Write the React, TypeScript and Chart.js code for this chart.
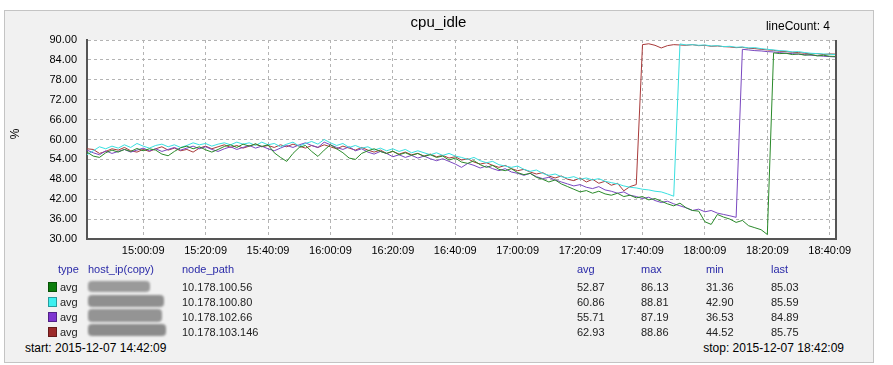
import React, { useEffect, useRef } from "react";
import { Chart, registerables } from "chart.js";

Chart.register(...registerables);

const FONT = '"Liberation Sans", Arial, sans-serif';

const START_TIME = "14:42:09";
const STOP_TIME = "18:42:09";
const DATE = "2015-12-07";
const STEP_MINUTES = 2;
const TOTAL_MINUTES = 240;
const X_TICK_MINUTES = [18, 38, 58, 78, 98, 118, 138, 158, 178, 198, 218, 238];
const Y_TICKS = [30, 36, 42, 48, 54, 60, 66, 72, 78, 84, 90];

const NODE_PATHS = ["10.178.100.56", "10.178.100.80", "10.178.102.66", "10.178.103.146"];
const LINE_COLORS = ["#2a8a2a", "#3ae0e0", "#7a48c0", "#a83a3a"];
const SWATCH_COLORS = ["#0b7d0b", "#3cf0f0", "#7d35d0", "#9b2a2a"];
const STAT_AVG = ["52.87", "60.86", "55.71", "62.93"];
const STAT_MAX = ["86.13", "88.81", "87.19", "88.86"];
const STAT_MIN = ["31.36", "42.90", "36.53", "44.52"];
const STAT_LAST = ["85.03", "85.59", "84.89", "85.75"];

const GREEN = [
  56.2, 55.0, 54.6, 56.0, 56.8, 56.2, 57.0, 56.4, 57.3, 56.6,
  57.2, 56.8, 55.6, 55.1, 56.4, 57.5, 58.0, 57.2, 57.8, 56.9,
  56.2, 57.0, 57.9, 58.4, 57.6, 58.6, 58.0, 58.7, 57.9, 58.4,
  56.0, 54.6, 53.4, 55.8, 57.6, 58.2, 56.4, 54.9, 56.8, 58.4,
  57.2, 56.0, 54.4, 54.0, 55.8, 56.6, 57.2, 56.4, 55.8, 56.5,
  55.4, 56.0, 55.2, 55.8, 54.9, 55.4, 54.6, 55.0, 53.8, 54.4,
  53.2, 52.8, 53.6, 52.4, 51.6, 52.2, 51.0, 50.6, 51.2, 50.0,
  49.4, 49.8, 48.6, 48.0, 47.2, 47.8, 46.6, 45.8, 45.0, 44.2,
  44.6, 43.8, 44.4, 43.6, 43.2, 43.8, 42.8, 43.2, 42.4, 42.8,
  41.8, 42.2, 41.4, 40.6, 40.0, 40.8, 39.4, 38.6, 38.4, 35.2,
  34.4, 37.4, 36.6, 36.0, 35.0, 35.6, 34.0, 33.4, 32.8, 31.36,
  86.13, 85.9, 86.0, 85.6, 85.8, 85.4, 85.6, 85.2, 85.4, 85.1,
  85.03,
];

const CYAN = [
  55.4, 56.6, 57.8, 57.2, 58.0, 57.4, 58.4, 57.6, 58.8, 58.0,
  57.4, 58.2, 58.6, 57.8, 58.4, 57.6, 58.2, 59.0, 58.4, 58.8,
  58.0, 58.6, 59.0, 58.4, 59.2, 58.6, 59.0, 58.2, 59.2, 58.4,
  58.8, 57.8, 58.6, 59.2, 58.0, 58.8, 59.4, 58.6, 60.0, 59.0,
  58.2, 58.8, 57.6, 58.2, 57.4, 57.8, 56.8, 57.4, 56.6, 57.2,
  56.4, 57.0, 56.0, 56.6, 56.0, 55.4, 56.0, 55.2, 55.8, 55.0,
  54.6, 54.0, 54.6, 53.6, 53.0, 53.4, 52.4, 52.0, 51.6, 52.0,
  51.0, 50.4, 50.8, 49.8, 49.2, 49.6, 48.8, 48.4, 48.8, 48.0,
  48.4, 47.8, 48.2, 47.4, 47.0, 46.6, 46.0, 45.6, 45.4, 45.0,
  44.8, 44.4, 44.2, 43.6, 42.9, 88.81, 88.5, 88.6, 88.4, 88.5,
  88.2, 88.3, 88.0, 88.1, 87.8, 87.9, 87.6, 87.7, 87.4, 87.2,
  87.0, 86.8, 86.7, 86.4, 86.5, 86.2, 86.0, 85.9, 85.8, 85.7,
  85.59,
];

const PURPLE = [
  56.8, 56.0, 55.4, 56.6, 55.8, 56.4, 57.0, 56.2, 56.8, 57.4,
  56.6, 57.2, 56.4, 57.0, 57.6, 56.8, 57.4, 58.0, 57.2, 57.8,
  57.0, 56.4, 57.2, 57.8, 57.0, 57.6, 58.2, 57.4, 58.0, 57.2,
  56.6, 57.4, 58.2, 57.6, 58.4, 59.0, 58.2, 57.6, 59.2, 58.4,
  57.6, 57.0, 57.8, 56.6, 57.2, 56.2, 55.6, 56.4, 55.8, 54.8,
  55.4, 54.6, 55.2, 54.4, 55.0, 54.2, 53.6, 54.2, 53.4, 52.6,
  51.6, 52.8, 52.2, 51.4, 52.0, 51.2, 50.6, 51.2, 50.2, 49.8,
  49.2, 49.8, 48.8, 48.2, 48.6, 47.8, 47.2, 46.6, 46.0, 46.4,
  45.6, 45.2, 45.8, 44.8, 44.4, 43.8, 44.2, 43.2, 42.8, 42.2,
  42.6, 41.6, 41.0, 41.4, 40.6, 40.0, 39.4, 38.6, 39.0, 38.2,
  38.6, 37.8, 37.4, 37.0, 36.53, 87.19, 87.0, 86.8, 86.7, 86.5,
  86.4, 86.2, 86.0, 85.9, 85.7, 85.6, 85.4, 85.3, 85.1, 85.0,
  84.89,
];

const RED = [
  57.2, 57.0, 55.8, 56.4, 57.2, 56.8, 57.6, 56.6, 56.2, 57.0,
  56.4, 57.2, 57.8, 56.8, 57.4, 56.6, 57.0, 56.2, 57.4, 58.0,
  57.2, 57.8, 58.4, 57.6, 58.2, 57.4, 58.0, 58.6, 57.8, 58.2,
  57.6, 58.4, 57.8, 58.6, 58.0, 57.4, 58.2, 57.6, 58.4, 57.8,
  57.2, 58.0, 57.4, 56.8, 57.6, 56.8, 56.2, 56.8, 55.8, 56.4,
  55.6, 56.2, 55.4, 55.8, 55.0, 55.6, 54.8, 55.2, 54.4, 54.8,
  53.8, 54.2, 53.2, 52.6, 53.0, 52.2, 51.6, 52.2, 51.2, 50.6,
  51.0, 50.2, 49.6, 50.0, 49.0, 48.4, 49.0, 48.0, 47.6, 48.4,
  47.2, 48.0, 46.8, 47.4, 46.2, 46.8, 44.52, 45.8, 46.4, 88.6,
  88.86, 88.4, 87.6, 88.3, 88.6, 88.5, 88.4, 88.6, 88.3, 88.4,
  88.1, 88.2, 88.0, 87.9, 87.7, 87.8, 87.5, 87.4, 87.2, 87.0,
  86.9, 86.6, 86.5, 86.3, 86.2, 86.0, 85.8, 85.9, 85.6, 85.8,
  85.75,
];

const SERIES = [GREEN, CYAN, PURPLE, RED];

function formatTime(minutesFromStart: number): string {
  const [h, m, s] = START_TIME.split(":").map(Number);
  let total = h * 3600 + m * 60 + s + Math.round(minutesFromStart * 60);
  const hh = Math.floor(total / 3600) % 24;
  total -= Math.floor(total / 3600) * 3600;
  const mm = Math.floor(total / 60);
  const ss = total - mm * 60;
  const p = (n: number) => String(n).padStart(2, "0");
  return `${p(hh)}:${p(mm)}:${p(ss)}`;
}

const plotDecor = {
  id: "plotDecor",
  beforeDraw(chart: any) {
    const { ctx, chartArea } = chart;
    ctx.save();
    ctx.fillStyle = "#ffffff";
    ctx.fillRect(chartArea.left, chartArea.top, chartArea.right - chartArea.left, chartArea.bottom - chartArea.top);
    ctx.restore();
  },
  afterDraw(chart: any) {
    const { ctx, chartArea } = chart;
    ctx.save();
    ctx.strokeStyle = "#555555";
    ctx.lineWidth = 2;
    ctx.beginPath();
    ctx.moveTo(chartArea.right, chartArea.top);
    ctx.lineTo(chartArea.right, chartArea.bottom + 1);
    ctx.stroke();
    ctx.restore();
  },
};

function LineChart() {
  const ref = useRef<HTMLCanvasElement | null>(null);
  useEffect(() => {
    if (!ref.current) return;
    const datasets = SERIES.map((vals, i) => ({
      label: NODE_PATHS[i],
      data: vals.map((v, k) => ({ x: k * STEP_MINUTES, y: v })),
      borderColor: LINE_COLORS[i],
      backgroundColor: LINE_COLORS[i],
      borderWidth: 1,
      pointRadius: 0,
      tension: 0,
      fill: false,
    }));
    const chart = new Chart(ref.current, {
      type: "line",
      data: { datasets },
      options: {
        animation: false,
        responsive: false,
        layout: { padding: { left: 0, top: 40, right: 57, bottom: 0 } },
        plugins: {
          legend: { display: false },
          tooltip: { enabled: false },
          title: { display: false },
        },
        scales: {
          x: {
            type: "linear",
            min: 0,
            max: TOTAL_MINUTES,
            afterBuildTicks: (s: any) => {
              s.ticks = X_TICK_MINUTES.map((v) => ({ value: v }));
            },
            afterFit: (s: any) => {
              s.height = 25;
            },
            ticks: {
              callback: (v: any) => formatTime(Number(v)),
              font: { size: 11, family: FONT },
              color: "#000",
              padding: 5,
              maxRotation: 0,
              autoSkip: false,
            },
            grid: { color: "#b4b4b4", drawTicks: false, lineWidth: 1 },
            border: { display: true, color: "#555555", width: 2, dash: [3, 3] },
          },
          y: {
            min: 30,
            max: 90,
            afterBuildTicks: (s: any) => {
              s.ticks = Y_TICKS.map((v) => ({ value: v }));
            },
            afterFit: (s: any) => {
              s.width = 87;
            },
            ticks: {
              callback: (v: any) => Number(v).toFixed(2),
              font: { size: 11, family: FONT },
              color: "#000",
              padding: 10,
            },
            grid: { color: "#b4b4b4", drawTicks: false, lineWidth: 1 },
            border: { display: true, color: "#555555", width: 2, dash: [3, 3] },
          },
        },
      } as any,
      plugins: [plotDecor],
    });
    return () => chart.destroy();
  }, []);
  return (
    <canvas
      ref={ref}
      width={893}
      height={264}
      style={{ position: "absolute", left: 0, top: 0, width: 893, height: 264, display: "block" }}
    />
  );
}

const abs = (left: number, cy: number, size: number, extra: React.CSSProperties = {}): React.CSSProperties => ({
  position: "absolute",
  left,
  top: cy - 7,
  height: 14,
  lineHeight: "14px",
  fontSize: size,
  fontFamily: FONT,
  whiteSpace: "nowrap",
  ...extra,
});

const HEADER_COLOR = "#2a2aa8";
const ROW_Y = [286.5, 301.5, 316.5, 331.5];

export default function App() {
  return (
    <div style={{ position: "absolute", left: 0, top: 0, width: 893, height: 365, background: "#fff", overflow: "hidden" }}>
      <div
        style={{
          position: "absolute",
          left: 4,
          top: 10,
          width: 870,
          height: 353,
          boxSizing: "border-box",
          background: "#f1f1f1",
          border: "1px solid #c4c4c4",
        }}
      />
      <LineChart />
      <div style={abs(0, 22, 15, { width: 877, textAlign: "center", color: "#000" })}>cpu_idle</div>
      <div style={abs(600, 26, 12, { width: 230, textAlign: "right", color: "#000" })}>lineCount: 4</div>
      <div
        style={{
          position: "absolute",
          left: 10,
          top: 127,
          fontSize: 12,
          fontFamily: FONT,
          lineHeight: "14px",
          transform: "rotate(-90deg)",
          color: "#000",
        }}
      >
        %
      </div>

      <div style={abs(58, 269, 11, { color: HEADER_COLOR })}>type</div>
      <div style={abs(88, 269, 11, { color: HEADER_COLOR })}>host_ip(copy)</div>
      <div style={abs(182, 269, 11, { color: HEADER_COLOR })}>node_path</div>
      <div style={abs(577, 269, 11, { color: HEADER_COLOR })}>avg</div>
      <div style={abs(641, 269, 11, { color: HEADER_COLOR })}>max</div>
      <div style={abs(706, 269, 11, { color: HEADER_COLOR })}>min</div>
      <div style={abs(771, 269, 11, { color: HEADER_COLOR })}>last</div>

      {NODE_PATHS.map((p, i) => (
        <React.Fragment key={p}>
          <div
            style={{
              position: "absolute",
              left: 48,
              top: ROW_Y[i] - 5,
              width: 9,
              height: 10,
              background: SWATCH_COLORS[i],
              boxSizing: "border-box",
              border: "1px solid rgba(0,0,0,0.35)",
            }}
          />
          <div style={abs(60, ROW_Y[i], 11, { color: "#222" })}>avg</div>
          <div style={abs(182, ROW_Y[i], 11, { color: "#222" })}>{p}</div>
          <div style={abs(577, ROW_Y[i], 11, { color: "#222" })}>{STAT_AVG[i]}</div>
          <div style={abs(641, ROW_Y[i], 11, { color: "#222" })}>{STAT_MAX[i]}</div>
          <div style={abs(706, ROW_Y[i], 11, { color: "#222" })}>{STAT_MIN[i]}</div>
          <div style={abs(771, ROW_Y[i], 11, { color: "#222" })}>{STAT_LAST[i]}</div>
        </React.Fragment>
      ))}

      {/* redacted host_ip cells */}
      <div style={{ position: "absolute", left: 88, top: 281, width: 62, height: 11, background: "#9a9a9a", borderRadius: 4, filter: "blur(1.2px)" }} />
      <div style={{ position: "absolute", left: 88, top: 295, width: 76, height: 12, background: "#8f8f8f", borderRadius: 4, filter: "blur(1.2px)" }} />
      <div style={{ position: "absolute", left: 88, top: 309, width: 74, height: 13, background: "#949494", borderRadius: 4, filter: "blur(1.2px)" }} />
      <div style={{ position: "absolute", left: 88, top: 324, width: 78, height: 12, background: "#8c8c8c", borderRadius: 4, filter: "blur(1.2px)" }} />

      <div style={abs(25, 348, 12, { color: "#000" })}>{`start: ${DATE} ${START_TIME}`}</div>
      <div style={abs(600, 348, 12, { width: 244, textAlign: "right", color: "#000" })}>{`stop: ${DATE} ${STOP_TIME}`}</div>
    </div>
  );
}
